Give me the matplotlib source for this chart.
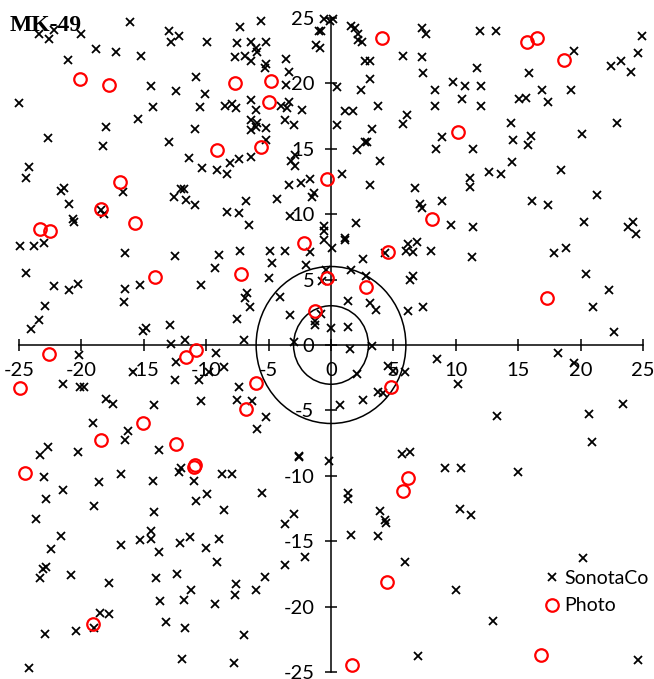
import matplotlib
matplotlib.use('Agg')
import matplotlib.pyplot as plt
from matplotlib.patches import Circle

plt.rcParams['font.family'] = ['Lato', 'DejaVu Sans']
plt.rcParams['axes.unicode_minus'] = False

# SonotaCo radiant offsets (deg)
sonota_x = [
    -23.4, -22.6, -22.2, -20.0, -16.1, -13.0, -12.2, -12.8, -9.9, -18.8,
    -17.2, -15.2, -21.1, -10.8, -14.4, -12.4, -10.1, -25.0, -14.3, -10.5,
    -15.5, -18.0, -10.9, -22.7, -18.3, -13.0, -11.4, -10.3, -9.1, -24.2,
    -0.6, -0.1, 0.2, -7.3, -5.6, -1.0, -0.8, 1.6, 1.9, 2.2,
    2.2, 2.5, 7.3, 7.6, -7.5, -6.4, -6.0, -5.2, -5.9, -7.7,
    -6.9, -6.4, -5.2, -5.3, -3.6, -3.4, -3.6, -1.2, -0.9, 2.7,
    3.1, 3.1, 2.4, 5.8, 7.3, 7.4, 0.5, 8.3, -8.5, -7.9,
    -7.6, -6.4, -6.0, -4.0, -3.4, -3.5, -2.3, 1.1, 1.8, 3.8,
    6.1, 5.8, 8.3, -6.4, -5.9, -6.4, -6.0, -5.2, -5.2, -3.7,
    -3.0, 0.5, 3.3, 2.7, 2.9, 2.1, 3.9, -2.9, -3.2, -2.9,
    -6.4, -7.4, -8.1, -8.3, 0.9, 8.4,
    11.9, 13.2, 19.5, 24.9, 24.6, 23.2, 22.4, 24.0, 11.7, 15.9,
    9.8, 10.7, 12.0, 16.9, 19.2, 10.5, 12.0, 15.1, 15.6, 17.4,
    14.4, 22.9, 8.9, 11.4, 14.6, 16.0, 15.8, 20.1, 14.5, 12.7,
    13.6, 18.4,
    -24.4, -16.7, -21.6, -21.4, -21.0, -12.6, -12.0, -11.8, -11.6, -10.9,
    -18.4, -18.2, -20.7, -20.6, -24.9, -23.8, -23.0, -16.5, -12.5, -9.0,
    -9.3, -24.4, -22.2, -21.0, -20.3, -16.5, -15.3, -16.6, -10.4, -22.9,
    -23.4, -24.0, -15.1, -14.8, -12.9, -12.8, -11.7,
    -1.7, -2.4, -3.4, -1.4, -1.5, -4.3, -6.8, -8.3, -7.4, -6.6,
    -3.3, 3.1, 6.7, 7.1, 7.3, 2.0, -0.6, -0.6, -0.6, 1.1,
    1.1, 0.1, -1.7, -7.3, -4.9, -3.7, 4.3, 6.2, 6.9, 6.0,
    6.6, 8.0, 2.6, -4.7, -2.0, -5.0, -0.4, 1.6, 2.8, -0.7,
    6.3, 6.6, -6.7, -6.9, -6.5, -4.1, 1.4, 3.1, 3.6, 6.2,
    7.4, -0.8, -1.3, -1.3, -3.3, -7.5, 0.0, 1.4, -7.0, -3.0,
    11.1, 11.1, 8.9, 16.1, 17.4, 21.3, 9.6, 11.4, 20.3, 23.8,
    24.2, 24.4, 11.3, 17.9, 18.8, 20.4, 22.3, 21.0, 22.7,
    -20.2, -21.5, -20.1, -19.8, -15.9, -12.4, -9.2, -12.5, -10.6, -9.8,
    -10.4, -18.0, -17.5, -14.2, -19.1, -16.3, -16.5, -13.8, -22.7, -23.3,
    -20.3, -12.0, -12.2, -23.0, -16.8, -18.6, -14.3, -11.0, -21.5, -22.8,
    -10.8, -9.9, -19.0, -14.2,
    1.5, 3.3, -8.6, 2.1, 4.6, 5.9, 5.0, -7.4, -7.5, -6.3,
    3.8, 4.2, 2.6, 0.7, -5.2, -5.9, -2.6, -2.6, -0.2, 5.7,
    6.3, -8.7, -7.9, -5.5, 1.4, 1.4, -8.6, 3.9, -3.0,
    8.5, 18.2, 19.5, 10.2, 23.4, 13.3, 20.7, 20.9, 9.1, 10.4,
    15.0, 10.3, 11.2,
    -23.6, -21.6, -22.4, -16.8, -15.3, -14.4, -14.4, -13.8, -12.1, -11.3,
    -10.0, -9.0, -9.1, -23.1, -22.8, -23.3, -20.8, -17.8, -14.0, -12.3,
    -11.2, -13.7, -11.8, -9.3, -18.5, -17.8, -19.0, -13.2, -11.7, -22.9,
    -20.4, -11.9, -24.2,
    -3.7, -3.7, -2.1, -5.3, -7.6, -7.7, -6.0, -7.0, -7.8, 4.3,
    4.4, 1.6, 3.8, 5.9, 7.0,
    20.2, 10.0, 13.0, 24.6,
]
sonota_y = [
    23.8, 23.4, 24.1, 23.8, 24.7, 24.0, 23.6, 23.2, 23.2, 22.6,
    22.4, 22.1, 21.8, 20.5, 19.8, 19.4, 19.2, 18.5, 18.2, 18.2,
    17.3, 16.7, 16.5, 15.8, 15.2, 15.5, 14.3, 13.5, 13.4, 13.6,
    24.9, 24.8, 24.9, 24.3, 24.8, 24.0, 24.0, 24.4, 24.2, 23.8,
    23.3, 23.2, 24.2, 23.8, 23.1, 23.2, 22.7, 23.2, 22.4, 22.0,
    22.1, 21.7, 21.5, 21.2, 21.9, 20.9, 19.9, 22.9, 22.7, 21.7,
    21.7, 20.3, 19.5, 22.1, 22.0, 20.8, 19.7, 19.5, 18.3, 18.4,
    18.1, 18.7, 18.0, 18.3, 18.6, 18.1, 18.0, 17.9, 17.9, 18.3,
    17.6, 16.9, 18.3, 17.2, 17.0, 16.4, 16.7, 16.6, 15.7, 17.2,
    16.8, 16.8, 16.5, 15.5, 15.5, 14.9, 14.1, 14.5, 14.1, 13.7,
    14.4, 14.2, 13.9, 13.1, 13.1, 15.0,
    24.0, 24.0, 22.5, 23.6, 22.3, 21.7, 21.3, 20.9, 21.2, 20.8,
    20.1, 19.8, 19.8, 19.5, 19.5, 18.8, 18.3, 18.8, 18.9, 18.6,
    17.0, 17.0, 15.9, 15.0, 15.7, 16.0, 15.3, 16.1, 14.0, 13.2,
    13.1, 13.4,
    12.8, 11.7, 11.8, 12.0, 10.8, 11.3, 11.9, 11.9, 11.1, 10.7,
    10.3, 10.0, 9.6, 9.4, 7.6, 7.6, 7.8, 7.0, 6.8, 6.9,
    5.9, 5.5, 4.5, 4.2, 4.7, 4.3, 4.6, 3.3, 4.6, 3.0,
    1.9, 1.2, 1.1, 1.3, 1.5, 0.1, 0.4,
    12.7, 12.4, 12.2, 11.6, 11.3, 11.2, 11.0, 10.2, 10.1, 9.2,
    9.9, 12.2, 12.0, 10.8, 10.5, 9.3, 9.1, 8.7, 8.0, 8.2,
    8.0, 7.4, 7.1, 7.2, 7.2, 7.2, 7.0, 7.7, 7.9, 7.2,
    7.1, 7.2, 6.6, 6.3, 6.1, 5.1, 5.7, 5.7, 5.3, 4.9,
    5.0, 5.3, 4.0, 3.6, 2.9, 3.7, 3.4, 3.2, 2.7, 2.6,
    2.9, 2.4, 1.8, 1.5, 2.3, 2.0, 1.3, 1.4, 0.4, 0.2,
    12.8, 12.1, 11.0, 11.0, 10.7, 11.5, 9.2, 9.0, 9.4, 9.0,
    9.4, 8.5, 6.7, 7.0, 7.4, 5.4, 4.2, 2.9, 1.0,
    -0.8, -3.0, -3.2, -3.2, -2.1, -1.3, -0.6, -2.7, -2.7, -2.1,
    -4.3, -4.1, -4.5, -4.6, -6.0, -6.6, -7.3, -8.0, -7.8, -8.4,
    -8.2, -9.4, -9.7, -10.1, -9.9, -10.5, -10.4, -10.4, -11.1, -11.8,
    -11.9, -11.4, -12.3, -12.8,
    -0.3, -0.1, -1.7, -2.2, -1.6, -2.1, -2.0, -3.2, -4.2, -4.3,
    -3.6, -3.7, -4.2, -4.6, -5.5, -6.4, -8.5, -8.6, -8.9, -8.3,
    -8.2, -9.9, -9.9, -11.3, -11.3, -11.8, -12.6, -12.7, -12.9,
    -1.1, -0.6, -1.4, -3.0, -4.5, -5.4, -5.3, -7.4, -9.4, -9.4,
    -9.7, -12.5, -13.0,
    -13.3, -14.6, -15.6, -15.3, -14.9, -14.2, -14.8, -15.8, -15.1, -14.7,
    -15.5, -14.8, -16.6, -17.1, -17.0, -17.8, -17.6, -18.2, -17.8, -17.5,
    -18.7, -19.6, -19.5, -19.8, -20.5, -20.6, -21.6, -21.2, -21.6, -22.1,
    -21.9, -24.0, -24.7,
    -13.7, -16.8, -16.2, -17.7, -18.3, -19.1, -18.7, -22.2, -24.3, -13.4,
    -13.6, -14.5, -14.6, -16.6, -23.8,
    -16.3, -18.7, -21.1, -24.1,
]

# Photographic radiants
photo_x = [-20.1, -17.8, -9.1, -7.7, -4.8, -5.0, -5.6, 4.1, 15.7, 16.5,
           18.7, 10.2, -16.9, -18.4, -15.7, -23.3, -22.5, -14.1, -0.3, 8.1,
           -2.2, 4.6, -7.2, -0.3, 2.8, -1.3, 17.3, -22.6, -24.9, -11.6,
           -10.8, -15.1, -18.4, -12.4, -10.9, -11.0, -24.5, -6.0, 4.8, -6.8,
           6.2, 5.8, -19.1, 4.5, 1.7, 16.8]
photo_y = [20.3, 19.9, 14.9, 20.0, 20.2, 18.6, 15.1, 23.5, 23.2, 23.5,
           21.8, 16.3, 12.5, 10.4, 9.3, 8.9, 8.7, 5.2, 12.7, 9.6,
           7.8, 7.1, 5.4, 5.1, 4.4, 2.6, 3.6, -0.7, -3.3, -0.9,
           -0.4, -6.0, -7.3, -7.6, -9.2, -9.3, -9.8, -2.9, -3.2, -4.9,
           -10.2, -11.2, -21.3, -18.1, -24.5, -23.7]

ring_radii = [3, 6]
ticks = [-25, -20, -15, -10, -5, 0, 5, 10, 15, 20, 25]

fig = plt.figure(figsize=(6.54, 6.79), dpi=100)
ax = fig.add_axes([19 / 654, 7 / 679, 624 / 654, 654 / 679])

ax.plot(sonota_x, sonota_y, linestyle='none', marker='x', ms=5.8, mew=1.3,
        color='black', label='SonotaCo', clip_on=False, zorder=3)
ax.plot(photo_x, photo_y, linestyle='none', marker='o', ms=9, mfc='none',
        mec='red', mew=1.6, label='Photo', clip_on=False, zorder=4)

for r in ring_radii:
    ax.add_patch(Circle((0, 0), r, fill=False, edgecolor='black', lw=1.1, zorder=2))

ax.set_xlim(-25, 25)
ax.set_ylim(-25, 25)
ax.set_xticks(ticks)
ax.set_yticks(ticks)

for side in ['top', 'right']:
    ax.spines[side].set_visible(False)
for side in ['left', 'bottom']:
    ax.spines[side].set_position('zero')
    ax.spines[side].set_linewidth(1.1)
ax.tick_params(direction='inout', length=9, width=1.1, labelsize=14.5, pad=7.5)

ax.legend(loc='upper left', bbox_to_anchor=(0.832, 0.161),
          bbox_transform=fig.transFigure, frameon=False, fontsize=14,
          handlelength=0.8, handletextpad=0.25, borderpad=0, borderaxespad=0,
          labelspacing=0.55)

fig.text(0.015, 0.954, 'MK-49', fontfamily='Liberation Serif',
         fontweight='bold', fontsize=17, va='baseline')

fig.savefig('out.png', dpi=100)
